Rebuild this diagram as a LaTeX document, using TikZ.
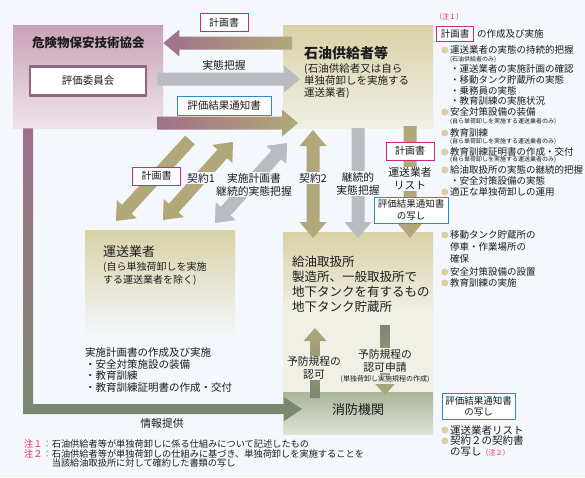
\documentclass[tikz,border=0pt]{standalone}
\usepackage{fontspec}
\setmainfont{Noto Sans CJK JP}
\usetikzlibrary{calc, positioning, shadows}

\definecolor{bgcol}{RGB}{244,247,251}
\definecolor{mauve}{RGB}{160,112,138}
\definecolor{mauvedark}{RGB}{150,100,125}
\definecolor{mauvetop}{RGB}{202,162,182}
\definecolor{mauvelow}{RGB}{238,228,234}
\definecolor{khaki}{RGB}{176,168,122}
\definecolor{khakitop}{RGB}{216,210,166}
\definecolor{khakilow}{RGB}{240,240,230}
\definecolor{greyarrow}{RGB}{184,188,192}
\definecolor{olive}{RGB}{122,136,110}
\definecolor{olivetop}{RGB}{170,181,152}
\definecolor{olivelow}{RGB}{222,227,216}
\definecolor{bulletcol}{RGB}{216,208,164}
\definecolor{pinkline}{RGB}{204,40,130}
\definecolor{blueline}{RGB}{44,140,200}
\definecolor{notered}{RGB}{230,40,100}
\definecolor{textcol}{RGB}{28,28,28}

% block arrow sizes
\newcommand{\arrshaft}{6.5pt}
\newcommand{\arrhead}{13.5pt}
\newcommand{\arrlen}{16pt}

% single block arrow: options, from, to
\newcommand{\blockarrow}[3]{%
    \coordinate (ah_b) at ($(#3)!\arrlen!(#2)$);
    \path[#1]
        ($(#2)!\arrshaft!90:(#3)$) -- ($(ah_b)!\arrshaft!90:(#3)$)
        -- ($(ah_b)!\arrhead!90:(#3)$) -- (#3)
        -- ($(ah_b)!\arrhead!-90:(#3)$) -- ($(ah_b)!\arrshaft!-90:(#3)$)
        -- ($(#2)!\arrshaft!-90:(#3)$) -- cycle;
}

% double block arrow: options, end a, end b
\newcommand{\dblarrow}[3]{%
    \coordinate (ah_a) at ($(#2)!\arrlen!(#3)$);
    \coordinate (ah_b) at ($(#3)!\arrlen!(#2)$);
    \path[#1]
        (#2) -- ($(ah_a)!\arrhead!90:(#3)$) -- ($(ah_a)!\arrshaft!90:(#3)$)
        -- ($(ah_b)!\arrshaft!90:(#3)$) -- ($(ah_b)!\arrhead!90:(#3)$)
        -- (#3)
        -- ($(ah_b)!\arrhead!-90:(#3)$) -- ($(ah_b)!\arrshaft!-90:(#3)$)
        -- ($(ah_a)!\arrshaft!-90:(#3)$) -- ($(ah_a)!\arrhead!-90:(#3)$)
        -- cycle;
}

\begin{document}
\begin{tikzpicture}[x=1pt, y=-1pt]
    % Define styles for the nodes
    \tikzstyle{box} = [rectangle, anchor=north west, inner sep=0, draw=none]
    \tikzstyle{heading} = [
        anchor=west, inner sep=0, text=textcol,
        font=\fontsize{13}{15}\selectfont
    ]
    \tikzstyle{subtext} = [
        anchor=west, align=left, inner sep=0, text=textcol,
        font=\fontsize{10.5}{12}\selectfont
    ]
    \tikzstyle{committee} = [
        rectangle, draw=mauvedark, line width=2.5pt, fill=white,
        minimum width=116pt, minimum height=29pt, inner sep=0,
        font=\fontsize{10.5}{12}\selectfont, text=textcol,
        drop shadow={shadow xshift=1.2pt, shadow yshift=-1.2pt,
            fill=mauvedark!60!black, opacity=0.5}
    ]
    \tikzstyle{pinktag} = [
        rectangle, draw=pinkline, line width=1pt, fill=white,
        minimum width=48pt, minimum height=18pt, inner sep=0,
        font=\fontsize{10}{12}\selectfont, text=textcol
    ]
    \tikzstyle{bluetag} = [
        rectangle, draw=blueline, line width=1pt, fill=white,
        minimum height=19pt, inner sep=0, align=center,
        font=\fontsize{10.5}{11.5}\selectfont, text=textcol,
        drop shadow={shadow xshift=1pt, shadow yshift=-1pt,
            fill=black!40, opacity=0.4}
    ]
    \tikzstyle{plaintag} = [
        fill=bgcol, inner sep=1pt, align=center, text=textcol,
        font=\fontsize{10.8}{13}\selectfont
    ]
    \tikzstyle{listtext} = [
        anchor=west, inner sep=0, text=textcol,
        font=\fontsize{9.5}{11}\selectfont
    ]
    \tikzstyle{smallnote} = [
        anchor=west, inner sep=0, text=textcol,
        font=\fontsize{6}{7}\selectfont
    ]
    \tikzstyle{notetext} = [
        anchor=west, inner sep=0, text=textcol,
        font=\fontsize{9.2}{10}\selectfont
    ]
    \tikzstyle{bullet} = [circle, fill=bulletcol, inner sep=0, minimum size=7pt]

    % Background
    \fill[bgcol] (0,0) rectangle (585,477);
    \useasboundingbox (0,0) rectangle (585,477);

    % Boxes
    \node[box, top color=mauvetop, bottom color=mauvelow,
        minimum width=150pt, minimum height=103pt] (kiken_box) at (13,25) {};
    \node[box, top color=khakitop, bottom color=khakilow,
        minimum width=150pt, minimum height=103pt] (sekiyu_box) at (283,25) {};
    \node[box, top color=khakitop, bottom color=bgcol,
        minimum width=150pt, minimum height=105pt] (unso_box) at (85,230) {};
    \node[box, top color=khakitop, bottom color=khakilow, middle color=khakilow,
        minimum width=150pt, minimum height=160pt] (kyuyu_box) at (283,232) {};
    \node[box, top color=olivetop, bottom color=olivelow,
        minimum width=150pt, minimum height=42pt] (shobo_box) at (283,392) {};

    % Texts of the boxes
    \node[heading, font=\bfseries\fontsize{12.5}{15}\selectfont] (kiken_title)
        at ([xshift=19pt, yshift=-18pt]kiken_box.north west) {危険物保安技術協会};
    \node[committee] (hyoka_iinkai) at (88,81) {評価委員会};

    \node[heading, font=\bfseries\fontsize{14}{16}\selectfont] (sekiyu_title)
        at ([xshift=21pt, yshift=-28pt]sekiyu_box.north west) {石油供給者等};
    \node[subtext] (sekiyu_sub)
        at ([xshift=21pt, yshift=-56pt]sekiyu_box.north west)
        {(石油供給者又は自ら\\単独荷卸しを実施する\\運送業者)};

    \node[heading] (unso_title)
        at ([xshift=18pt, yshift=-22pt]unso_box.north west) {運送業者};
    \node[subtext, font=\fontsize{10}{13}\selectfont] (unso_sub)
        at ([xshift=18pt, yshift=-43.5pt]unso_box.north west)
        {(自ら単独荷卸しを実施\\する運送業者を除く)};

    \node[heading, align=left, font=\fontsize{12.5}{15}\selectfont] (kyuyu_title)
        at ([xshift=9pt, yshift=-52.5pt]kyuyu_box.north west)
        {給油取扱所\\製造所、一般取扱所で\\地下タンクを有するもの\\地下タンク貯蔵所};

    \node[heading, anchor=center] (shobo_title)
        at ([yshift=-18pt]shobo_box.north) {消防機関};

    % Information arrow (L shape)
    \coordinate (info_start) at ([xshift=15pt]kiken_box.south west);
    \coordinate (info_end) at (302,409);
    \shade[top color=mauve, bottom color=olive]
        ([xshift=-5pt]info_start) -- ([xshift=5pt]info_start)
        |- ([xshift=-18pt, yshift=5pt]info_end)
        -- ([xshift=-18pt, yshift=12pt]info_end) -- (info_end)
        -- ([xshift=-18pt, yshift=-12pt]info_end)
        -- ([xshift=-18pt, yshift=-5pt]info_end)
        -| ([xshift=-5pt]info_start) -- cycle;

    % Arrows between the top boxes
    \coordinate (plan_to) at (kiken_box.east |- 0,43);
    \coordinate (plan_from) at ($(sekiyu_box.west |- 0,43) + (9,0)$);
    \blockarrow{left color=mauve, right color=khaki}{plan_from}{plan_to}

    \coordinate (grasp_from) at ($(kiken_box.east |- 0,79) + (-6,0)$);
    \coordinate (grasp_to) at ($(sekiyu_box.west |- 0,79) + (17,0)$);
    \blockarrow{fill=greyarrow}{grasp_from}{grasp_to}

    \coordinate (notice_from) at ($(kiken_box.east |- 0,123) + (-6,0)$);
    \coordinate (notice_to) at ($(sekiyu_box.west |- 0,123) + (15,0)$);
    \blockarrow{left color=mauve, right color=khaki}{notice_from}{notice_to}

    % Diagonal arrows to the carrier
    \coordinate (plan2_from) at (190,140);
    \coordinate (plan2_to) at (116,221);
    \blockarrow{fill=khaki}{plan2_from}{plan2_to}

    \coordinate (contract1_a) at (233,142);
    \coordinate (contract1_b) at (163,220);
    \dblarrow{fill=khaki}{contract1_a}{contract1_b}

    \coordinate (survey_a) at (287,143);
    \coordinate (survey_b) at (215,223);
    \dblarrow{fill=greyarrow}{survey_a}{survey_b}

    % Vertical arrows to the filling station
    \coordinate (contract2_a) at (313,130);
    \coordinate (contract2_b) at (313,238);
    \dblarrow{fill=khaki}{contract2_a}{contract2_b}

    \coordinate (follow_a) at (358,128);
    \coordinate (follow_b) at (358,238);
    \blockarrow{fill=greyarrow}{follow_a}{follow_b}

    \coordinate (list_a) at (410,126);
    \coordinate (list_b) at (410,238);
    \blockarrow{fill=khaki}{list_a}{list_b}

    % Arrows with the fire department
    \begin{scope}
        \renewcommand{\arrshaft}{4.8pt}
        \renewcommand{\arrhead}{11.5pt}
        \renewcommand{\arrlen}{13pt}
        \coordinate (approve_a) at (315,398);
        \coordinate (approve_b) at (315,328);
        \blockarrow{top color=khaki, bottom color=olive}{approve_a}{approve_b}
        \coordinate (apply_a) at (385,325);
        \coordinate (apply_b) at (385,395);
        \blockarrow{top color=olive, bottom color=khaki}{apply_a}{apply_b}
    \end{scope}

    % Arrow labels
    \node[pinktag] (plan_tag) at (224,22.5) {計画書};
    \node[plaintag] (grasp_tag) at (224,65) {実態把握};
    \node[bluetag, minimum width=94pt] (notice_tag) at (224,105.5) {評価結果通知書};

    \node[pinktag] (plan2_tag) at (156.5,176) {計画書};
    \node[plaintag] (contract1_tag) at (201,178) {契約1};
    \node[plaintag] (survey_tag) at (254,184.5) {実施計画書\\継続的実態把握};
    \node[plaintag] (contract2_tag) at (313,178) {契約2};
    \node[plaintag] (follow_tag) at (358,183.5) {継続的\\実態把握};
    \node[pinktag] (plan3_tag) at (410,151) {計画書};
    \node[plaintag] (list_tag) at (410,179) {運送業者\\リスト};
    \node[bluetag, minimum width=74pt, minimum height=26pt,
        font=\fontsize{9.5}{11.5}\selectfont] (notice2_tag) at (411,210)
        {評価結果通知書\\の写し};

    \node[plaintag, fill=khakilow] (approve_tag) at (314,368) {予防規程の\\認可};
    \node[plaintag, fill=khakilow] (apply_tag) at (385,360.5) {予防規程の\\認可申請};
    \node[smallnote, anchor=north, fill=khakilow, inner sep=0.5pt,
        font=\fontsize{7}{8}\selectfont] (apply_note)
        at ([yshift=-2pt]apply_tag.south) {(単独荷卸し実施規程の作成)};

    \node[plaintag] (info_tag) at (162,423) {情報提供};

    % Carrier duties
    \node[subtext, font=\fontsize{10.5}{11.4}\selectfont] (unso_plan) at (85,370)
        {実施計画書の作成及び実施\\・安全対策施設の装備\\・教育訓練\\・教育訓練証明書の作成・交付};

    % Right column: supplier duties
    \node[smallnote, text=notered, font=\fontsize{7}{8}\selectfont] (note1_mark)
        at (435,17) {（注１）};
    \node[pinktag, anchor=west, minimum width=37pt, minimum height=15pt,
        font=\fontsize{9.5}{11}\selectfont] (plan4_tag) at (436,33.5) {計画書};
    \node[listtext, right=3pt of plan4_tag] (plan4_text) {の作成及び実施};

    \node[listtext] (item1) at (450,50) {運送業者の実態の持続的把握};
    \node[bullet, left=1.5pt of item1] (item1_dot) {};
    \node[smallnote] (item1_note) at (450,60) {(石油供給者のみ)};
    \node[listtext] (item1a) at (450,69) {・運送業者の実施計画の確認};
    \node[listtext] (item1b) at (450,80) {・移動タンク貯蔵所の実態};
    \node[listtext] (item1c) at (450,91) {・乗務員の実態};
    \node[listtext] (item1d) at (450,101) {・教育訓練の実施状況};

    \node[listtext] (item2) at (450,112) {安全対策設備の装備};
    \node[bullet, left=1.5pt of item2] (item2_dot) {};
    \node[smallnote] (item2_note) at (450,122) {(自ら単荷卸しを実施する運送業者のみ)};

    \node[listtext] (item3) at (450,133) {教育訓練};
    \node[bullet, left=1.5pt of item3] (item3_dot) {};
    \node[smallnote] (item3_note) at (450,142) {(自ら単荷卸しを実施する運送業者のみ)};

    \node[listtext] (item4) at (450,152) {教育訓練証明書の作成・交付};
    \node[bullet, left=1.5pt of item4] (item4_dot) {};
    \node[smallnote] (item4_note) at (450,160) {(自ら単荷卸しを実施する運送業者のみ)};

    \node[listtext] (item5) at (450,170) {給油取扱所の実態の継続的把握};
    \node[bullet, left=1.5pt of item5] (item5_dot) {};
    \node[listtext] (item5a) at (450,181) {・安全対策設備の実態};

    \node[listtext] (item6) at (450,192) {適正な単独荷卸しの運用};
    \node[bullet, left=1.5pt of item6] (item6_dot) {};

    % Right column: filling station duties
    \node[listtext] (station1) at (450,235) {移動タンク貯蔵所の};
    \node[bullet, left=1.5pt of station1] (station1_dot) {};
    \node[listtext] (station1a) at (450,247) {停車・作業場所の};
    \node[listtext] (station1b) at (450,259) {確保};
    \node[listtext] (station2) at (450,272) {安全対策設備の設置};
    \node[bullet, left=1.5pt of station2] (station2_dot) {};
    \node[listtext] (station3) at (450,283) {教育訓練の実施};
    \node[bullet, left=1.5pt of station3] (station3_dot) {};

    % Right column: papers for the fire department
    \node[bluetag, minimum width=73pt, minimum height=26pt,
        font=\fontsize{9.5}{11}\selectfont] (notice3_tag) at (478.5,406)
        {評価結果通知書\\の写し};
    \node[listtext, font=\fontsize{10.5}{12}\selectfont] (paper1) at (450,430) {運送業者リスト};
    \node[bullet, left=1.5pt of paper1] (paper1_dot) {};
    \node[listtext, font=\fontsize{10.5}{12}\selectfont] (paper2) at (450,441) {契約２の契約書};
    \node[bullet, left=1.5pt of paper2] (paper2_dot) {};
    \node[listtext, font=\fontsize{10.5}{12}\selectfont] (paper2a) at (450,452)
        {の写し{\color{notered}\fontsize{7}{8}\selectfont （注２）}};

    % Notes
    \node[notetext] (note1) at (24,444)
        {\textcolor{notered}{注１}\textcolor{gray}{：}石油供給者等が単独荷卸しに係る仕組みについて記述したもの};
    \node[notetext] (note2) at (24,454)
        {\textcolor{notered}{注２}\textcolor{gray}{：}石油供給者等が単独荷卸しの仕組みに基づき、単独荷卸しを実施することを};
    \node[notetext] (note2b) at (51.6,463) {当該給油取扱所に対して確約した書類の写し};

\end{tikzpicture}
\end{document}
